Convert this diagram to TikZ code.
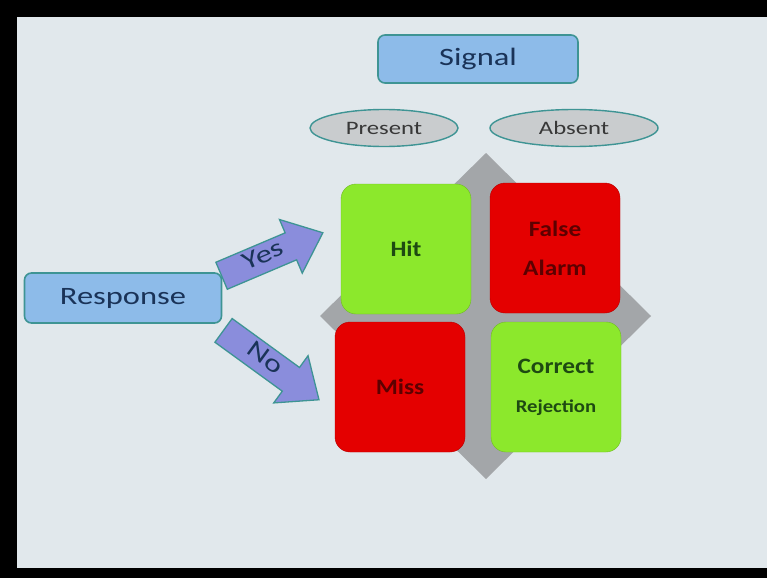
\documentclass[tikz,border=0pt]{standalone}
\usepackage{fontspec}
\setmainfont{Carlito}[FakeStretch=1.3]
\newfontfamily\cellfont{Carlito}[FakeStretch=1.15]
\usetikzlibrary{shapes.geometric,shapes.arrows}
\definecolor{panel}{HTML}{E1E8EC}
\definecolor{labelblue}{HTML}{8DBBE9}
\definecolor{rimteal}{HTML}{3E9494}
\definecolor{navy}{HTML}{1A3358}
\definecolor{ovalgray}{HTML}{C9CCCE}
\definecolor{arrowblue}{HTML}{8A8DDC}
\definecolor{cellgreen}{HTML}{8CE82C}
\definecolor{cellred}{HTML}{E40000}
\definecolor{greentext}{HTML}{1E4A12}
\definecolor{redtext}{HTML}{5C0000}
\definecolor{crossgray}{HTML}{A3A6A9}
\tikzset{
  header/.style={draw=rimteal, line width=1.6pt, fill=labelblue, rounded corners=7pt,
    text=navy, font=\fontsize{25}{28}\selectfont, inner sep=0pt},
  oval/.style={ellipse, draw=rimteal, line width=1.4pt, fill=ovalgray,
    text=black!78, font=\fontsize{19}{21}\selectfont, inner sep=0pt},
  cell/.style={rounded corners=15pt, minimum width=130pt, minimum height=130pt,
    inner sep=0pt, align=center, font=\cellfont\bfseries\fontsize{22}{39}\selectfont},
  goodcell/.style={cell, fill=cellgreen, draw=cellgreen!80!black, text=greentext},
  badcell/.style={cell, fill=cellred, draw=cellred!80!black, text=redtext},
  pointer/.style={single arrow, draw=rimteal, line width=1.3pt, fill=arrowblue,
    text=navy, font=\fontsize{25}{27}\selectfont, inner xsep=2pt, inner ysep=4pt,
    text height=15pt, text depth=5pt, single arrow head extend=14.5pt,
    single arrow tip angle=80}
}
\begin{document}
\begin{tikzpicture}[x=1pt, y=-1pt]
  % frame and slide panel
  \fill[black] (0,0) rectangle (767,578);
  \fill[panel] (17,17) rectangle (767,568);
  \useasboundingbox (0,0) rectangle (767,578);

  % headings
  \node[header, minimum width=200pt, minimum height=48pt] (signal) at (478,59) {Signal};
  \node[oval, minimum width=148pt, minimum height=37pt] (present) at (384,128) {Present};
  \node[oval, minimum width=168pt, minimum height=37pt] (absent) at (574,128) {Absent};
  \node[header, minimum width=197pt, minimum height=50pt] (response) at (123,298) {Response};

  % gray cross behind the grid
  \fill[crossgray] (486,153) -- (651,316) -- (486,479) -- (320,316) -- cycle;

  % outcome grid
  \node[goodcell] (hit) at (406,249) {Hit};
  \node[badcell] (false) at (555,248) {False\\Alarm};
  \node[badcell] (miss) at (400,387) {Miss};
  \node[goodcell, font=\cellfont\bfseries\fontsize{22}{39}\selectfont] (correct) at (556,387)
    {Correct\\{\fontsize{18}{21}\selectfont Rejection}};

  % response arrows
  \node[pointer, minimum height=110pt, rotate=23, anchor=tail] (yes) at (221,276) {Yes};
  \node[pointer, minimum height=118pt, rotate=-36, anchor=tail] (no) at (223,330) {No};
\end{tikzpicture}
\end{document}
